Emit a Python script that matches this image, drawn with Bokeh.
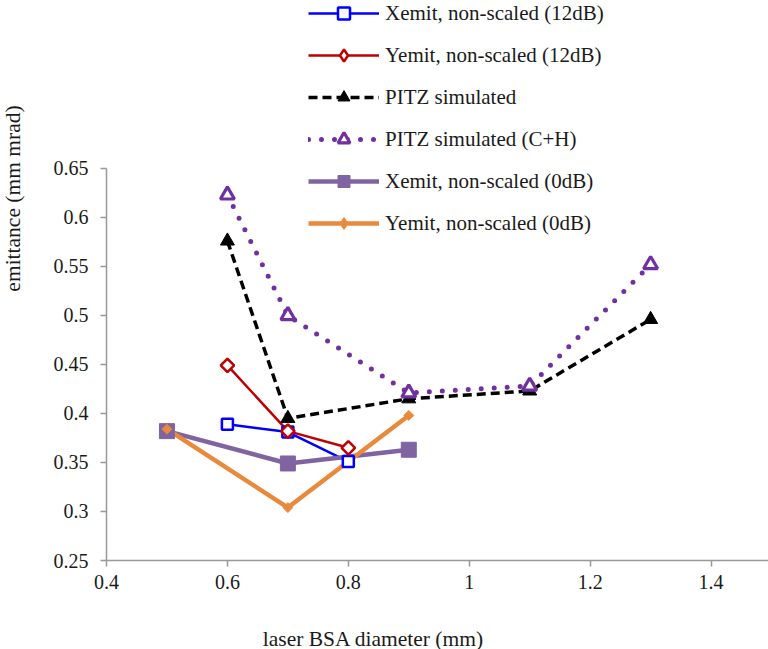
import numpy as np
from bokeh.plotting import figure
from bokeh.models import Range1d, FixedTicker, CustomJSTickFormatter, Legend, LegendItem, Label
from bokeh.embed import file_html
from bokeh.resources import INLINE

FONT = "Liberation Serif"

# ---- data ----
x_12db = [0.6, 0.7, 0.8]
xemit_12db = [0.389, 0.381, 0.351]
yemit_12db = [0.449, 0.382, 0.365]

x_sim = [0.6, 0.7, 0.9, 1.1, 1.3]
pitz_sim = [0.576, 0.395, 0.415, 0.423, 0.496]
pitz_sim_ch = [0.623, 0.500, 0.421, 0.428, 0.552]

x_0db = [0.5, 0.7, 0.9]
xemit_0db = [0.382, 0.349, 0.363]
yemit_0db = [0.384, 0.304, 0.398]

x_ticks = [0.4, 0.6, 0.8, 1.0, 1.2, 1.4]
y_ticks = [0.25, 0.3, 0.35, 0.4, 0.45, 0.5, 0.55, 0.6, 0.65]

labels = ["Xemit, non-scaled (12dB)", "Yemit, non-scaled (12dB)", "PITZ simulated",
          "PITZ simulated (C+H)", "Xemit, non-scaled (0dB)", "Yemit, non-scaled (0dB)"]
x_title = "laser BSA diameter (mm)"
y_title = "emittance (mm mrad)"

# frame reaches the top of the page so the legend (which overlaps the plot) is not clipped
p = figure(width=768, height=649, output_backend="svg", toolbar_location=None,
           x_range=Range1d(0.4, 1.495), y_range=Range1d(0.25, 0.8214),
           min_border_left=106, min_border_right=0, min_border_top=0, min_border_bottom=89)
p.outline_line_color = None
p.xgrid.grid_line_color = None
p.ygrid.grid_line_color = None
p.background_fill_color = "white"
p.border_fill_color = "white"

fmt = CustomJSTickFormatter(code="return String(Math.round(tick*100)/100);")
for ax, ticks in ((p.xaxis, x_ticks), (p.yaxis, y_ticks)):
    ax.ticker = FixedTicker(ticks=ticks)
    ax.formatter = fmt
    ax.axis_line_color = "#999999"
    ax.axis_line_width = 1.5
    ax.major_tick_line_color = "#999999"
    ax.major_tick_line_width = 1.5
    ax.major_tick_out = 6
    ax.major_tick_in = 0
    ax.minor_tick_line_color = None
    ax.major_label_text_font = FONT
    ax.major_label_text_font_size = "20px"
    ax.major_label_text_color = "#1a1a1a"
p.yaxis.bounds = (0.25, 0.65)
p.yaxis.major_label_standoff = 12
p.xaxis.major_label_standoff = 8

# axis titles as labels in the side panels (screen units relative to their panel)
ytitle = Label(x=-14, y=362, x_units="screen", y_units="screen", text=y_title,
               angle=np.pi / 2, text_align="center", text_baseline="middle",
               text_font=FONT, text_font_size="21.5px", text_color="#1a1a1a")
xtitle = Label(x=267, y=-23, x_units="screen", y_units="screen", text=x_title,
               text_align="center", text_baseline="middle",
               text_font=FONT, text_font_size="21.5px", text_color="#1a1a1a")
p.add_layout(ytitle, "left")
p.add_layout(xtitle, "below")

# lines
r1 = p.line(x_12db, xemit_12db, line_color="#0000FF", line_width=2.5)
r2 = p.line(x_12db, yemit_12db, line_color="#C00000", line_width=2.5)
r3 = p.line(x_sim, pitz_sim, line_color="black", line_width=3.5, line_dash="9 5")
r4 = p.line(x_sim, pitz_sim_ch, line_color="#7030A0", line_width=5, line_dash="0 13", line_cap="round")
r5 = p.line(x_0db, xemit_0db, line_color="#8064A2", line_width=4.5)
r6 = p.line(x_0db, yemit_0db, line_color="#E8893C", line_width=4.5)

# markers
m1 = p.scatter(x_12db, xemit_12db, marker="square", size=11, fill_color="white",
               line_color="#0000FF", line_width=2.5)
m2 = p.scatter(x_12db, yemit_12db, marker="square", angle=np.pi / 4, size=9.5, fill_color="white",
               line_color="#C00000", line_width=2.5)
m3 = p.scatter(x_sim, pitz_sim, marker="triangle", size=14, fill_color="black", line_color="black")
m4 = p.scatter(x_sim, pitz_sim_ch, marker="triangle", size=14, fill_color="white",
               line_color="#7030A0", line_width=3.2)
m5 = p.scatter(x_0db, xemit_0db, marker="square", size=15, fill_color="#8064A2", line_color="#8064A2")
m6 = p.scatter(x_0db, yemit_0db, marker="square", angle=np.pi / 4, size=7, fill_color="#E8893C",
               line_color="#E8893C")

# legend-only diamonds (legend markers are drawn without rotation)
d2 = p.scatter(x_12db, yemit_12db, marker="diamond", size=14, fill_color="white",
               line_color="#C00000", line_width=2.5, visible=False)
d6 = p.scatter(x_0db, yemit_0db, marker="diamond", size=10, fill_color="#E8893C",
               line_color="#E8893C", visible=False)

items = [LegendItem(label=lab, renderers=[r, m]) for lab, r, m in
         zip(labels, [r1, r2, r3, r4, r5, r6], [m1, d2, m3, m4, m5, d6])]
legend = Legend(items=items, location=(202, 322), orientation="vertical",
                glyph_width=71, glyph_height=30, label_height=30, spacing=12,
                label_standoff=6, padding=0, margin=0,
                border_line_color=None, background_fill_alpha=0,
                label_text_font=FONT, label_text_font_size="21px", label_text_color="#1a1a1a")
p.add_layout(legend, "center")

open("out.html", "w").write(file_html(p, INLINE))
